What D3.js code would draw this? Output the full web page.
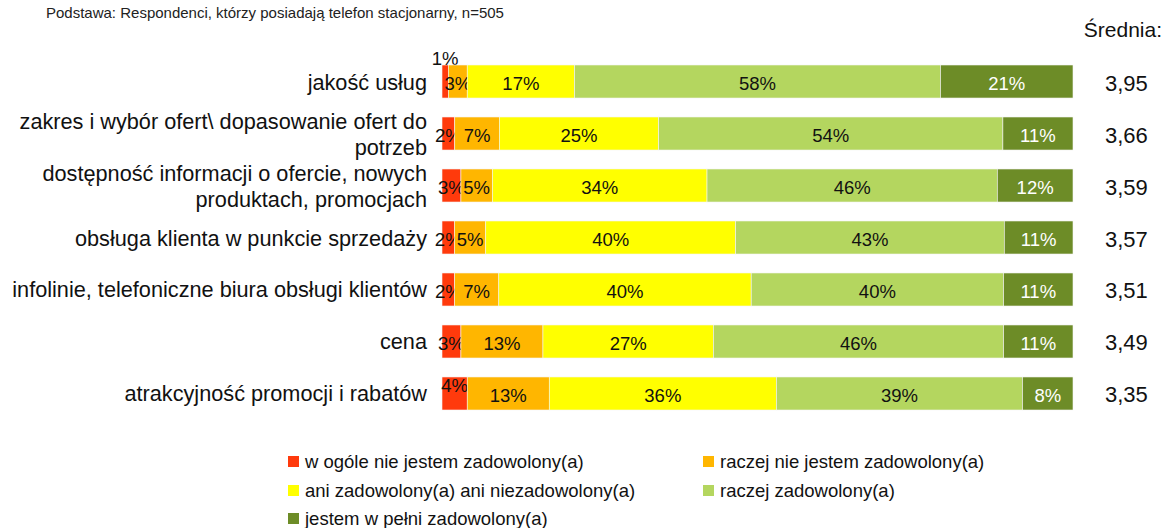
<!DOCTYPE html>
<html>
<head>
<meta charset="utf-8">
<script src="https://cdn.jsdelivr.net/npm/d3@7"></script>
<style>
  body { margin: 0; background: #fff; }
  svg { font-family: "Liberation Sans", Arial, sans-serif; }
</style>
</head>
<body>
<div id="chart"></div>
<script>
const categories = [
    "jakość usług",
    "zakres i wybór ofert\\ dopasowanie ofert do\npotrzeb",
    "dostępność informacji o ofercie, nowych\nproduktach, promocjach",
    "obsługa klienta w punkcie sprzedaży",
    "infolinie, telefoniczne biura obsługi klientów",
    "cena",
    "atrakcyjność promocji i rabatów"
];
const seriesNames = [
    "w ogóle nie jestem zadowolony(a)",
    "raczej nie jestem zadowolony(a)",
    "ani zadowolony(a) ani niezadowolony(a)",
    "raczej zadowolony(a)",
    "jestem w pełni zadowolony(a)"
];
const notAtAll = [1, 2, 3, 2, 2, 3, 4];
const ratherNot = [3, 7, 5, 5, 7, 13, 13];
const neutral = [17, 25, 34, 40, 40, 27, 36];
const ratherYes = [58, 54, 46, 43, 40, 46, 39];
const fully = [21, 11, 12, 11, 11, 11, 8];
const averages = ["3,95", "3,66", "3,59", "3,57", "3,51", "3,49", "3,35"];

const colors = ["#ff3a0c", "#ffb600", "#ffff00", "#b4d65f", "#6d8c27"];

const width = 1165, height = 528;
const svg = d3.select("#chart").append("svg")
    .attr("width", width)
    .attr("height", height);

const rows = categories.map((c, i) => ({
    cat: c, s0: notAtAll[i], s1: ratherNot[i], s2: neutral[i], s3: ratherYes[i], s4: fully[i]
}));
const keys = ["s0", "s1", "s2", "s3", "s4"];
const stack = d3.stack().keys(keys).offset(d3.stackOffsetExpand);
const stacked = stack(rows);

const x = d3.scaleLinear().domain([0, 1]).range([442, 1073]);
const y = d3.scaleBand()
    .domain(categories)
    .range([65, 410])
    .paddingInner(0.365)
    .paddingOuter(0);

// footnote
svg.append("text")
    .attr("x", 46)
    .attr("y", 18)
    .style("font-size", "15px")
    .attr("fill", "#222")
    .text("Podstawa: Respondenci, którzy posiadają telefon stacjonarny, n=505");

svg.append("text")
    .attr("x", 1162)
    .attr("y", 37)
    .attr("text-anchor", "end")
    .style("font-size", "21px")
    .attr("fill", "#111")
    .text("Średnia:");

// bars
const layers = svg.selectAll(".layer")
    .data(stacked)
    .enter().append("g")
    .attr("class", "layer")
    .attr("fill", (d, i) => colors[i]);

layers.selectAll("rect")
    .data(d => d)
    .enter().append("rect")
    .attr("x", d => x(d[0]))
    .attr("y", d => y(d.data.cat))
    .attr("width", d => x(d[1]) - x(d[0]))
    .attr("height", y.bandwidth())
    .attr("stroke", "#f4f4f4")
    .attr("stroke-width", 0.6);

// value labels (small ones nudged like the original)
const lift = { "0-0": -25, "0-6": -10 };
layers.each(function(layer, li) {
    d3.select(this).selectAll("text")
        .data(layer)
        .enter().append("text")
        .attr("x", d => (x(d[0]) + x(d[1])) / 2)
        .attr("y", (d, ri) => y(d.data.cat) + y.bandwidth() / 2 + 8.5 + (lift[li + "-" + ri] || 0))
        .attr("text-anchor", "middle")
        .style("font-size", "18.5px")
        .attr("fill", li === 4 ? "#fff" : "#111")
        .text(d => d.data[layer.key] + "%");
});

// category labels
categories.forEach(c => {
    const lines = c.split("\n");
    const cy = y(c) + y.bandwidth() / 2;
    const t = svg.append("text")
        .attr("text-anchor", "end")
        .style("font-size", "21.7px")
        .attr("fill", "#111");
    lines.forEach((ln, k) => {
        const off = lines.length === 1 ? 0 : (k === 0 ? -13 : 13);
        t.append("tspan")
            .attr("x", 427)
            .attr("y", cy + off + 8)
            .text(ln);
    });
});

// averages
svg.selectAll(".avg")
    .data(averages)
    .enter().append("text")
    .attr("class", "avg")
    .attr("x", 1105)
    .attr("y", (d, i) => y(categories[i]) + y.bandwidth() / 2 + 9)
    .style("font-size", "22px")
    .attr("fill", "#111")
    .text(d => d);

// legend
const legendPos = [[288, 462], [703, 462], [288, 491], [703, 491], [288, 519]];
seriesNames.forEach((name, i) => {
    const g = svg.append("g")
        .attr("transform", `translate(${legendPos[i][0]},${legendPos[i][1]})`);
    g.append("rect")
        .attr("x", 0).attr("y", -6)
        .attr("width", 11).attr("height", 11)
        .attr("fill", colors[i]);
    g.append("text")
        .attr("x", 17)
        .attr("y", 6)
        .style("font-size", "18.5px")
        .attr("fill", "#111")
        .text(name);
});
</script>
</body>
</html>
